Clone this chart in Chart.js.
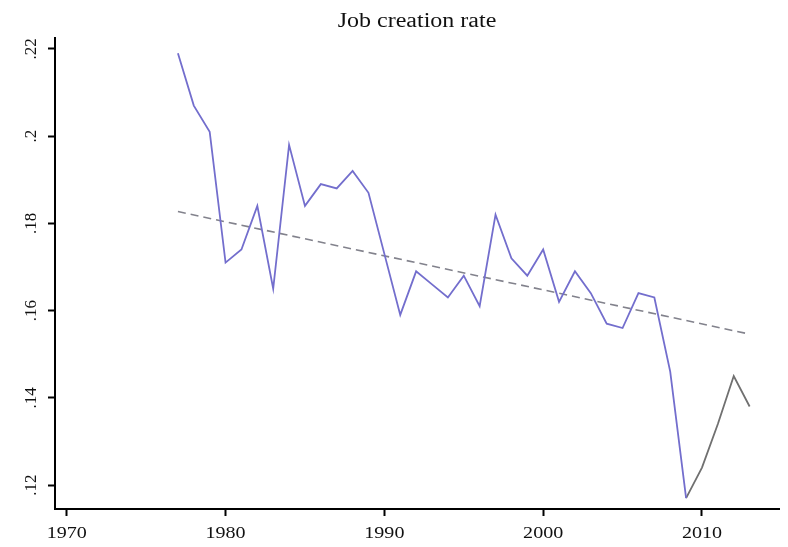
<!DOCTYPE html>
<html lang="en">
<head>
    <meta charset="UTF-8">
    <title>Job creation rate</title>
    <script src="https://cdn.jsdelivr.net/npm/chart.js"></script>
    <style>
        html, body { margin: 0; padding: 0; background: #fff; }
        #wrap { width: 788px; height: 547px; }
    </style>
</head>
<body>
<div id="wrap"><canvas id="chart"></canvas></div>
<script>
    // annual job creation rate, 1977-2009 (blue) and 2009-2013 (grey)
    const years = [1977, 1978, 1979, 1980, 1981, 1982, 1983, 1984, 1985, 1986, 1987, 1988, 1989,
        1990, 1991, 1992, 1993, 1994, 1995, 1996, 1997, 1998, 1999, 2000, 2001, 2002, 2003,
        2004, 2005, 2006, 2007, 2008, 2009];
    const rates = [0.219, 0.207, 0.201, 0.171, 0.174, 0.184, 0.165, 0.198, 0.184, 0.189, 0.188, 0.192, 0.187,
        0.173, 0.159, 0.169, 0.166, 0.163, 0.168, 0.161, 0.182, 0.172, 0.168, 0.174, 0.162, 0.169, 0.164,
        0.157, 0.156, 0.164, 0.163, 0.146, 0.117];
    const recentYears = [2009, 2010, 2011, 2012, 2013];
    const recentRates = [0.117, 0.124, 0.134, 0.145, 0.138];
    // linear trend endpoints
    const trendYears = [1977, 2013];
    const trendRates = [0.1827, 0.1546];

    const yTicks = [0.12, 0.14, 0.16, 0.18, 0.2, 0.22];
    const xTicks = [1970, 1980, 1990, 2000, 2010];

    const serif = '"Liberation Serif", "DejaVu Serif", serif';

    function pts(xs, ys) {
        return xs.map((x, i) => ({ x: x, y: ys[i] }));
    }

    function fmtRate(v) {
        return v.toFixed(2).replace(/^0/, '').replace(/0$/, '');
    }

    // text drawn a little wide, Stata-export style
    function wideText(ctx, text, x, y, sx) {
        ctx.save();
        ctx.translate(x, y);
        ctx.scale(sx, 1);
        ctx.fillText(text, 0, 0);
        ctx.restore();
    }

    // title over the plot area, x year labels and rotated y labels
    const stataText = {
        id: 'stataText',
        afterDraw(chart) {
            const ctx = chart.ctx;
            const area = chart.chartArea;
            const xScale = chart.scales.x;
            const yScale = chart.scales.y;
            ctx.save();
            ctx.fillStyle = '#111';
            ctx.textAlign = 'center';
            ctx.textBaseline = 'middle';

            ctx.font = '20px ' + serif;
            wideText(ctx, 'Job creation rate', (area.left + area.right) / 2, 22, 1.2);

            ctx.font = '17px ' + serif;
            xTicks.forEach(v => {
                wideText(ctx, String(v), xScale.getPixelForValue(v), area.bottom + 25, 1.18);
            });

            yTicks.forEach(v => {
                const py = yScale.getPixelForValue(v);
                ctx.save();
                ctx.translate(area.left - 23, py);
                ctx.rotate(-Math.PI / 2);
                ctx.fillText(fmtRate(v), 0, 0);
                ctx.restore();
            });
            ctx.restore();
        }
    };

    new Chart(document.getElementById('chart'), {
        type: 'line',
        data: {
            datasets: [{
                data: pts(years, rates),
                borderColor: 'rgb(115, 110, 205)',
                borderWidth: 1.8,
                pointRadius: 0,
                tension: 0
            }, {
                data: pts(recentYears, recentRates),
                borderColor: 'rgb(112, 112, 112)',
                borderWidth: 1.8,
                pointRadius: 0,
                tension: 0
            }, {
                data: pts(trendYears, trendRates),
                borderColor: 'rgb(130, 130, 140)',
                borderWidth: 1.6,
                borderDash: [8, 5],
                pointRadius: 0
            }]
        },
        options: {
            responsive: true,
            maintainAspectRatio: false,
            animation: false,
            layout: { padding: { top: 38, right: 9, left: 0, bottom: 0 } },
            plugins: {
                legend: { display: false },
                title: { display: false },
                tooltip: { enabled: false }
            },
            scales: {
                x: {
                    type: 'linear',
                    min: 1969.26,
                    max: 2014.85,
                    afterBuildTicks: s => { s.ticks = xTicks.map(v => ({ value: v })); },
                    afterFit: s => { s.height = 38; },
                    border: { display: true, color: '#000', width: 2 },
                    grid: { display: true, drawOnChartArea: false, drawTicks: true, tickLength: 7, color: '#000', tickWidth: 2 },
                    ticks: { display: false }
                },
                y: {
                    min: 0.1145,
                    max: 0.2225,
                    afterBuildTicks: s => { s.ticks = yTicks.map(v => ({ value: v })); },
                    afterFit: s => { s.width = 55; },
                    border: { display: true, color: '#000', width: 2 },
                    grid: { display: true, drawOnChartArea: false, drawTicks: true, tickLength: 7, color: '#000', tickWidth: 2 },
                    ticks: { display: false }
                }
            }
        },
        plugins: [stataText]
    });
</script>
</body>
</html>
